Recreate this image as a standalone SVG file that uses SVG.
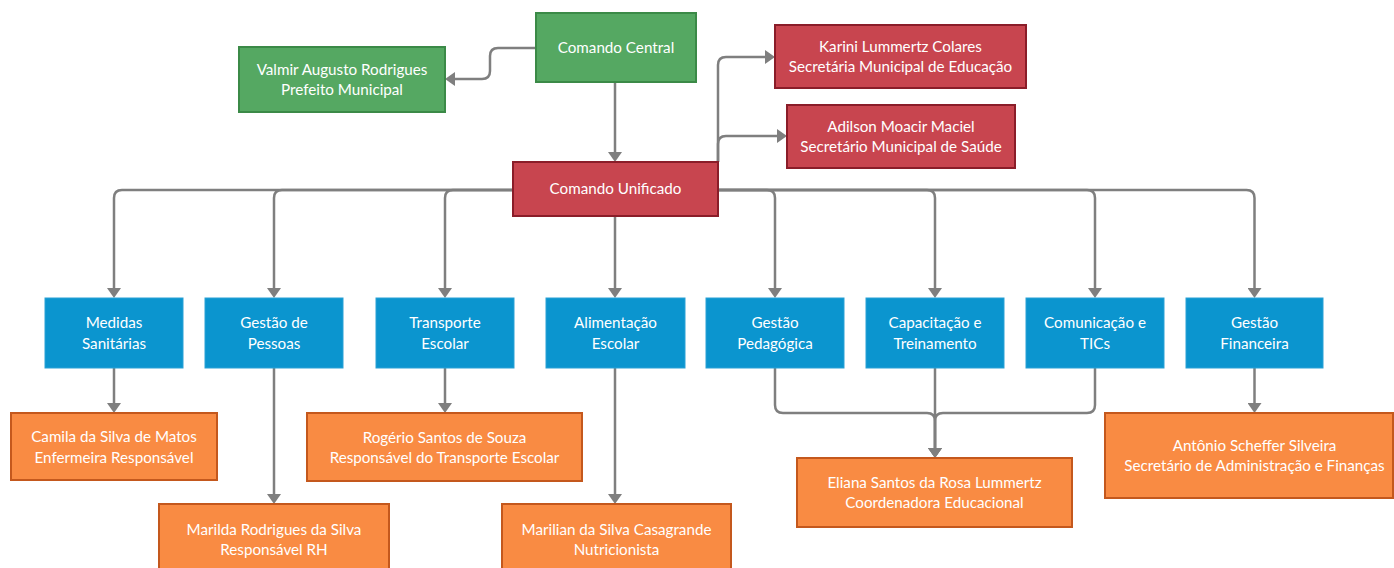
<svg xmlns="http://www.w3.org/2000/svg" width="1394" height="568" viewBox="0 0 1394 568">
<style>
text{font-family:Lato,"Open Sans","Liberation Sans",sans-serif;font-size:15.2px;fill:#fff;text-anchor:middle}
.g{fill:#55a862;stroke:#3b8a47;stroke-width:2}
.r{fill:#c8454f;stroke:#8a1d29;stroke-width:2}
.b{fill:#0b95cf;stroke:#2aa1d6;stroke-width:1}
.o{fill:#f98b43;stroke:#c4581d;stroke-width:2}
.c{fill:none;stroke:#7f7f7f;stroke-width:2.5}
</style>
<defs>
<marker id="ah" viewBox="0 0 10 14" markerWidth="10" markerHeight="14" refX="6" refY="7" orient="auto" markerUnits="userSpaceOnUse">
<path d="M0,0 L10,7 L0,14 z" fill="#7f7f7f"/>
</marker>
</defs>
<g id="connectors" class="c" marker-end="url(#ah)">
<path class="c" marker-end="url(#ah)" d="M536 48 H498 Q490 48 490 56 V71 Q490 79 482 79 H449"/>
<path class="c" marker-end="url(#ah)" d="M615 82 V158"/>
<path class="c" marker-end="url(#ah)" d="M718 162 V65 Q718 57 726 57 H771"/>
<path class="c" marker-end="url(#ah)" d="M718 162 V144 Q718 136 726 136 H783"/>
<path class="c" marker-end="url(#ah)" d="M513 190 H122 Q114 190 114 198 V294"/>
<path class="c" marker-end="url(#ah)" d="M513 190 H282 Q274 190 274 198 V294"/>
<path class="c" marker-end="url(#ah)" d="M513 190 H453 Q445 190 445 198 V294"/>
<path class="c" marker-end="url(#ah)" d="M615 216 V294"/>
<path class="c" marker-end="url(#ah)" d="M718 190 H767 Q775 190 775 198 V294"/>
<path class="c" marker-end="url(#ah)" d="M718 190 H927 Q935 190 935 198 V294"/>
<path class="c" marker-end="url(#ah)" d="M718 190 H1087 Q1095 190 1095 198 V294"/>
<path class="c" marker-end="url(#ah)" d="M718 190 H1246.5 Q1254.5 190 1254.5 198 V294"/>
<path class="c" marker-end="url(#ah)" d="M114 368 V409"/>
<path class="c" marker-end="url(#ah)" d="M274 368 V500"/>
<path class="c" marker-end="url(#ah)" d="M445 368 V409"/>
<path class="c" marker-end="url(#ah)" d="M615 368 V500"/>
<path class="c" marker-end="url(#ah)" d="M775 368 V405 Q775 413 783 413 H927 Q935 413 935 421 V454"/>
<path class="c" marker-end="url(#ah)" d="M935 368 V454"/>
<path class="c" marker-end="url(#ah)" d="M1095 368 V405 Q1095 413 1087 413 H943 Q935 413 935 421 V454"/>
<path class="c" marker-end="url(#ah)" d="M1254.5 368 V409"/>
</g>
<g id="comando-central"><rect class="g" x="536" y="13" width="160" height="69"/><text x="616" y="53">Comando Central</text></g>
<g id="valmir"><rect class="g" x="239" y="47" width="206" height="65"/><text x="342" y="75">Valmir Augusto Rodrigues</text><text x="342" y="95">Prefeito Municipal</text></g>
<g id="comando-unificado"><rect class="r" x="513" y="162" width="205" height="54"/><text x="615.5" y="194">Comando Unificado</text></g>
<g id="karini"><rect class="r" x="775" y="25" width="251" height="63"/><text x="900.5" y="52">Karini Lummertz Colares</text><text x="900.5" y="72">Secretária Municipal de Educação</text></g>
<g id="adilson"><rect class="r" x="787" y="105" width="228" height="63"/><text x="901" y="132">Adilson Moacir Maciel</text><text x="901" y="152">Secretário Municipal de Saúde</text></g>
<g id="medidas"><rect class="b" x="45" y="298" width="138" height="70"/><text x="114" y="328">Medidas</text><text x="114" y="349">Sanitárias</text></g>
<g id="pessoas"><rect class="b" x="205" y="298" width="138" height="70"/><text x="274" y="328">Gestão de</text><text x="274" y="349">Pessoas</text></g>
<g id="transporte"><rect class="b" x="376" y="298" width="138" height="70"/><text x="445" y="328">Transporte</text><text x="445" y="349">Escolar</text></g>
<g id="alimentacao"><rect class="b" x="546" y="298" width="139" height="70"/><text x="615.5" y="328">Alimentação</text><text x="615.5" y="349">Escolar</text></g>
<g id="pedagogica"><rect class="b" x="706" y="298" width="138" height="70"/><text x="775" y="328">Gestão</text><text x="775" y="349">Pedagógica</text></g>
<g id="capacitacao"><rect class="b" x="866" y="298" width="138" height="70"/><text x="935" y="328">Capacitação e</text><text x="935" y="349">Treinamento</text></g>
<g id="comunicacao"><rect class="b" x="1026" y="298" width="138" height="70"/><text x="1095" y="328">Comunicação e</text><text x="1095" y="349">TICs</text></g>
<g id="financeira"><rect class="b" x="1186" y="298" width="137" height="70"/><text x="1254.5" y="328">Gestão</text><text x="1254.5" y="349">Financeira</text></g>
<g id="camila"><rect class="o" x="11" y="413" width="206" height="67"/><text x="114" y="442">Camila da Silva de Matos</text><text x="114" y="463">Enfermeira Responsável</text></g>
<g id="rogerio"><rect class="o" x="307" y="413" width="275" height="68"/><text x="444.5" y="443">Rogério Santos de Souza</text><text x="444.5" y="463">Responsável do Transporte Escolar</text></g>
<g id="marilda"><rect class="o" x="159" y="504" width="230" height="72"/><text x="274" y="535">Marilda Rodrigues da Silva</text><text x="274" y="555">Responsável RH</text></g>
<g id="marilian"><rect class="o" x="502" y="504" width="229" height="72"/><text x="616.5" y="535">Marilian da Silva Casagrande</text><text x="616.5" y="555">Nutricionista</text></g>
<g id="eliana"><rect class="o" x="797" y="458" width="275" height="69"/><text x="934.5" y="488">Eliana Santos da Rosa Lummertz</text><text x="934.5" y="508">Coordenadora Educacional</text></g>
<g id="antonio"><rect class="o" x="1105" y="413" width="288" height="85"/><text x="1254.5" y="451">Antônio Scheffer Silveira</text><text x="1254.5" y="471">Secretário de Administração e Finanças</text></g>
</svg>
